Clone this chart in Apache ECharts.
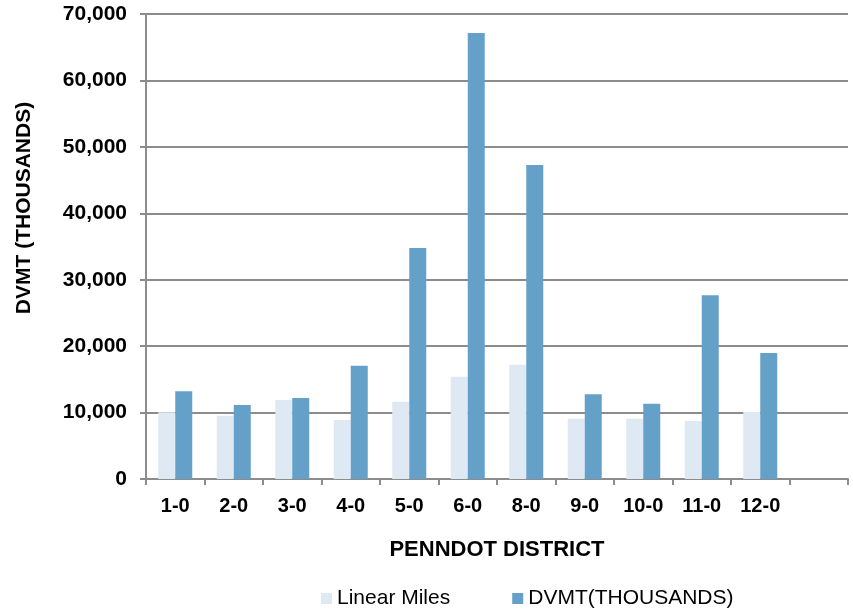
<!DOCTYPE html>
<html>
<head>
<meta charset="utf-8">
<script src="https://cdn.jsdelivr.net/npm/echarts@6/dist/echarts.min.js"></script>
<style>html,body{margin:0;padding:0;background:#fff}#c{width:853px;height:613px}</style>
</head>
<body>
<div id="c"></div>
<script>
var categories = ['1-0','2-0','3-0','4-0','5-0','6-0','8-0','9-0','10-0','11-0','12-0',''];
var linearMiles = [10050, 9530, 11890, 8880, 11640, 15400, 17210, 9080, 9080, 8730, 10090, null];
var dvmt = [13200, 11140, 12190, 17060, 34770, 67140, 47270, 12750, 11340, 27650, 18970, null];
var seriesNames = ['Linear Miles', 'DVMT(THOUSANDS)'];
var xTitle = 'PENNDOT DISTRICT';
var yTitle = 'DVMT (THOUSANDS)';

var chart = echarts.init(document.getElementById('c'), null, {renderer: 'canvas'});
var font = 'Liberation Sans, Arial, sans-serif';
chart.setOption({
  animation: false,
  textStyle: {fontFamily: font},
  grid: {left: 146, right: 5, top: 14, bottom: 134, containLabel: false},
  legend: {
    top: 583, left: 316,
    itemWidth: 11, itemHeight: 11, itemGap: 62,
    icon: 'rect',
    textStyle: {fontFamily: font, fontSize: 21, color: '#000'},
    data: seriesNames
  },
  xAxis: {
    type: 'category',
    data: categories,
    name: xTitle,
    nameLocation: 'middle',
    nameGap: 60,
    nameTextStyle: {fontFamily: font, fontSize: 22, fontWeight: 'bold', color: '#000'},
    axisLine: {lineStyle: {color: '#8c8c8c', width: 2}},
    axisTick: {show: true, alignWithLabel: false, length: 6, lineStyle: {color: '#8c8c8c', width: 2}},
    axisLabel: {fontFamily: font, fontSize: 20, fontWeight: 'bold', color: '#000', margin: 17, interval: 0}
  },
  yAxis: {
    type: 'value',
    min: 0, max: 70000, interval: 10000,
    name: yTitle,
    nameLocation: 'middle',
    nameGap: 111,
    nameRotate: 90,
    nameTextStyle: {fontFamily: font, fontSize: 21, fontWeight: 'bold', color: '#000', padding: [0, 0, 0, 77]},
    axisLine: {show: true, lineStyle: {color: '#8c8c8c', width: 2}},
    axisTick: {show: true, length: 6, lineStyle: {color: '#8c8c8c', width: 2}},
    splitLine: {lineStyle: {color: '#8c8c8c', width: 2}},
    axisLabel: {
      fontFamily: font, fontSize: 21, fontWeight: 'bold', color: '#000', margin: 19,
      formatter: function (v) { return v.toLocaleString('en-US'); }
    }
  },
  series: [
    {name: seriesNames[0], type: 'bar', data: linearMiles, barWidth: 17, barGap: '0%',
     itemStyle: {color: '#dee9f3'}},
    {name: seriesNames[1], type: 'bar', data: dvmt, barWidth: 17, barGap: '0%',
     itemStyle: {color: '#65a0c8'}}
  ]
});
</script>
</body>
</html>
